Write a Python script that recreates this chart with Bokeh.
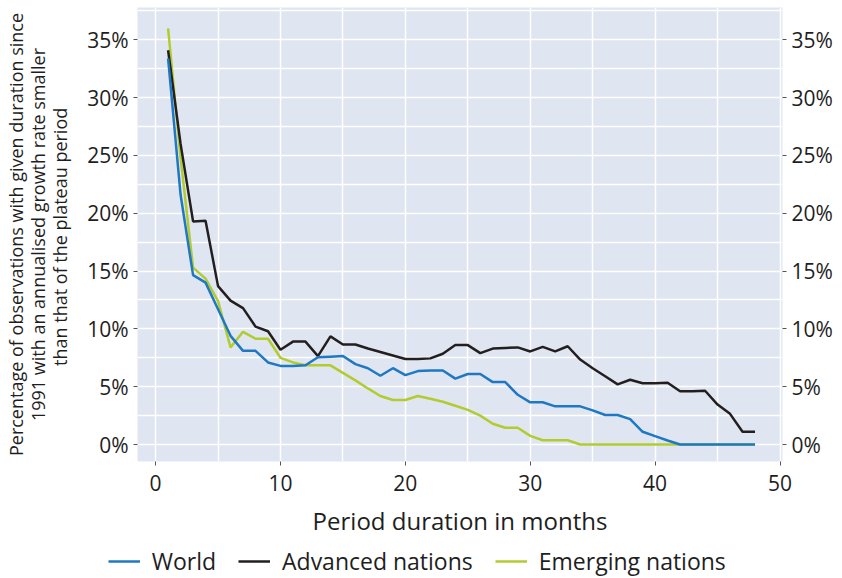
from bokeh.plotting import figure
from bokeh.layouts import column
from bokeh.models import FixedTicker, PrintfTickFormatter, LinearAxis, Range1d, Legend, LegendItem
from bokeh.embed import file_html
from bokeh.resources import INLINE

months = list(range(1, 49))
world = [33.4, 21.6, 14.65, 14.0, 11.7, 9.4, 8.1, 8.1, 7.1, 6.8, 6.8, 6.85,
         7.55, 7.6, 7.65, 6.95, 6.6, 5.95, 6.6, 6.0, 6.35, 6.4, 6.4, 5.7,
         6.1, 6.1, 5.4, 5.4, 4.3, 3.65, 3.65, 3.3, 3.3, 3.3, 2.95, 2.55,
         2.55, 2.2, 1.1, 0.72, 0.35, 0, 0, 0, 0, 0, 0, 0]
advanced = [34.1, 26.0, 19.3, 19.35, 13.7, 12.45, 11.8, 10.2, 9.8, 8.2, 8.9, 8.9,
            7.65, 9.35, 8.65, 8.65, 8.3, 8.0, 7.7, 7.4, 7.4, 7.45, 7.85, 8.6,
            8.6, 7.9, 8.3, 8.35, 8.4, 8.05, 8.45, 8.05, 8.5, 7.35, 6.6, 5.9,
            5.2, 5.6, 5.3, 5.3, 5.35, 4.6, 4.6, 4.65, 3.45, 2.65, 1.1, 1.1]
emerging = [36.0, 24.8, 15.3, 14.35, 12.4, 8.4, 9.75, 9.15, 9.15, 7.5, 7.1, 6.85,
            6.85, 6.85, 6.2, 5.55, 4.85, 4.2, 3.85, 3.85, 4.2, 3.95, 3.7, 3.35,
            3.0, 2.5, 1.8, 1.45, 1.45, 0.75, 0.37, 0.37, 0.37, 0, 0, 0,
            0, 0, 0, 0, 0, 0, 0, 0, 0, 0, 0, 0]

series_labels = ["World", "Advanced nations", "Emerging nations"]
x_ticks = [0, 10, 20, 30, 40, 50]
x_minor = [5, 15, 25, 35, 45]
y_ticks = [0, 5, 10, 15, 20, 25, 30, 35]
y_minor = [2.5, 7.5, 12.5, 17.5, 22.5, 27.5, 32.5, 37.5]

FONT = "Open Sans"
TXT = "#1e1e1e"
C_WORLD = "#1f78c1"
C_ADV = "#231f20"
C_EM = "#b2cb2f"

p = figure(frame_width=645, frame_height=454, output_backend="svg", toolbar_location=None,
           x_range=Range1d(-1.45, 50.2), y_range=Range1d(-1.47, 37.8),
           min_border_left=132, min_border_right=50, min_border_top=7,
           min_border_bottom=0)
p.background_fill_color = "#dfe6f1"
p.outline_line_color = None

r_em = p.line(months, emerging, line_color=C_EM, line_width=2.5)
r_adv = p.line(months, advanced, line_color=C_ADV, line_width=2.5)
r_world = p.line(months, world, line_color=C_WORLD, line_width=2.5)

xt = FixedTicker(ticks=x_ticks, minor_ticks=x_minor)
yt = FixedTicker(ticks=y_ticks, minor_ticks=y_minor)
fmt = PrintfTickFormatter(format="%d%%")

xaxis = p.xaxis[0]
left = p.yaxis[0]
xaxis.ticker = xt
left.ticker = yt
left.formatter = fmt

right = LinearAxis(ticker=yt, formatter=fmt)
p.add_layout(right, "right")

for ax in [xaxis, left, right]:
    ax.axis_line_color = None
    ax.major_tick_line_color = "#555555"
    ax.major_tick_out = 4
    ax.major_tick_in = 0
    ax.minor_tick_line_color = None
    ax.major_label_text_font = FONT
    ax.major_label_text_font_size = "21px"
    ax.major_label_text_color = TXT
    ax.major_label_standoff = 5

xaxis.axis_label = "Period duration in months"
xaxis.axis_label_text_font = FONT
xaxis.axis_label_text_font_size = "24px"
xaxis.axis_label_text_font_style = "normal"
xaxis.axis_label_text_color = TXT
xaxis.axis_label_standoff = 10
xaxis.major_label_standoff = 9

left.axis_label = ("Percentage of observations with given duration since\n"
                   "1991 with an annualised growth rate smaller\n"
                   "than  that of the plateau period")
left.axis_label_text_font = FONT
left.axis_label_text_font_size = "18px"
left.axis_label_text_font_style = "normal"
left.axis_label_text_color = TXT
left.axis_label_standoff = 12
left.axis_label_text_line_height = 0.92

p.xgrid.ticker = xt
p.ygrid.ticker = yt
for g in [p.xgrid[0], p.ygrid[0]]:
    g.grid_line_color = "white"
    g.grid_line_width = 1.5
    g.minor_grid_line_color = "white"
    g.minor_grid_line_width = 1.5

# legend strip below the chart (its lines lie outside this strip's visible range)
q = figure(frame_width=720, frame_height=40, output_backend="svg", toolbar_location=None,
           x_range=Range1d(100, 101), y_range=Range1d(100, 101),
           x_axis_location=None, y_axis_location=None,
           min_border_left=100, min_border_right=10, min_border_top=0,
           min_border_bottom=0)
q.outline_line_color = None
q.grid.grid_line_color = None
q_world = q.line(months, world, line_color=C_WORLD, line_width=2.5)
q_adv = q.line(months, advanced, line_color=C_ADV, line_width=2.5)
q_em = q.line(months, emerging, line_color=C_EM, line_width=2.5)

legend = Legend(items=[LegendItem(label=series_labels[0], renderers=[q_world]),
                       LegendItem(label=series_labels[1], renderers=[q_adv]),
                       LegendItem(label=series_labels[2], renderers=[q_em])],
                orientation="horizontal", location=(71, 2))
legend.label_text_font = FONT
legend.label_text_font_size = "23px"
legend.label_text_color = TXT
legend.glyph_width = 32
legend.label_standoff = 12
legend.spacing = 22
legend.padding = 0
legend.margin = 0
legend.background_fill_alpha = 0
legend.border_line_alpha = 0
q.add_layout(legend)

layout = column(p, q)
open("out.html", "w").write(file_html(layout, INLINE))
